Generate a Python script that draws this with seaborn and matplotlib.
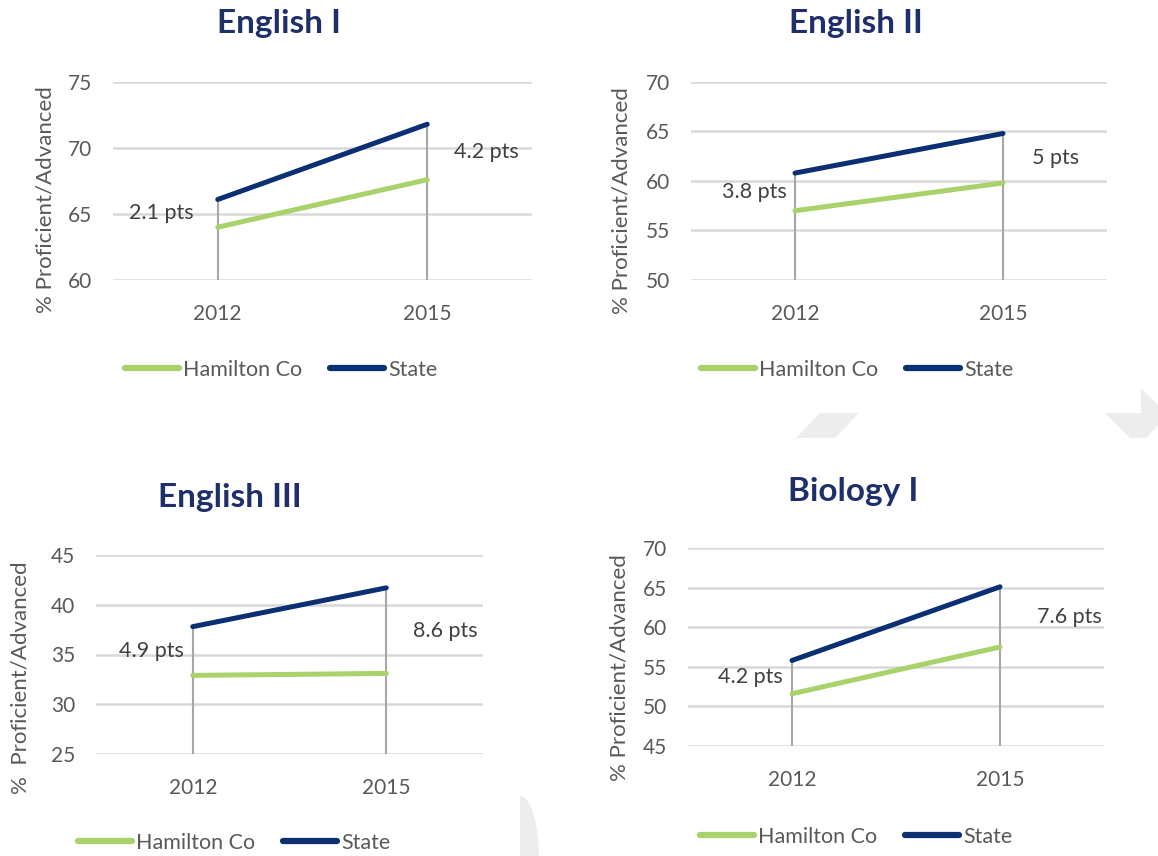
import numpy as np
import pandas as pd
import seaborn as sns
import matplotlib.pyplot as plt
from matplotlib.patches import Polygon

# data
years = ['2012', '2015']
subjects = ['English I', 'English II', 'English III', 'Biology I']
hamilton = [[64.0, 67.6], [57.0, 59.8], [32.9, 33.1], [51.6, 57.5]]
state = [[66.1, 71.8], [60.8, 64.8], [37.8, 41.7], [55.8, 65.1]]
y_limits = [(60, 75), (50, 70), (25, 45), (45, 70)]
y_labels = ['% Proficient/Advanced', '% Proficient/Advanced',
            '%  Proficient/Advanced', '% Proficient/Advanced']

# layout in pixels of the 1158x856 picture
W, H = 1158, 856
layout = [
    # axes (left, top, right, bottom), title xy, ylabel xy, legend xy, label gaps
    dict(ax=(113, 82, 532, 280), title=(279, 23), ylab=(45, 200), leg=(281, 370), gaps=(24, 27)),
    dict(ax=(691, 82, 1107, 280), title=(856, 23), ylab=(621, 201), leg=(857, 370), gaps=(8, 29)),
    dict(ax=(96, 555, 483, 754), title=(230, 498), ylab=(20, 678), leg=(234, 843), gaps=(9, 27)),
    dict(ax=(688, 548, 1104, 746), title=(853, 492), ylab=(619, 668), leg=(856, 837), gaps=(9, 37)),
]

green = '#A9D26A'
navy = '#0B2F73'
text_grey = '#595959'
fs = 15.5

sns.set_theme(style='white')
plt.rcParams['font.family'] = ['Lato', 'DejaVu Sans']

fig = plt.figure(figsize=(W / 100, H / 100), dpi=100)


def fx(x):
    return x / W


def fy(y):
    return 1 - y / H


for i, subj in enumerate(subjects):
    lay = layout[i]
    l, t, r, b = lay['ax']
    ax = fig.add_axes([fx(l), fy(b), (r - l) / W, (b - t) / H])

    df = pd.DataFrame({
        'year': years * 2,
        'value': hamilton[i] + state[i],
        'series': ['Hamilton Co'] * 2 + ['State'] * 2,
    })
    sns.lineplot(data=df, x='year', y='value', hue='series',
                 palette={'Hamilton Co': green, 'State': navy},
                 lw=3.6, ax=ax, sort=False, zorder=3,
                 solid_capstyle='round')

    lo, hi = y_limits[i]
    top = np.maximum(hamilton[i], state[i])
    ax.vlines(years, lo, top, color='#A6A6A6', lw=1.5, zorder=2)

    ax.set_ylim(lo, hi)
    ax.set_yticks(np.arange(lo, hi + 1, 5))
    ax.set_xlim(-0.5, 1.5)
    ax.grid(axis='y', color='#D9D9D9', lw=1.8)
    ax.grid(axis='x', visible=False)
    ax.set_axisbelow(True)
    sns.despine(ax=ax, left=True, bottom=True)
    ax.tick_params(axis='y', length=0, labelsize=15, colors=text_grey, pad=15)
    ax.tick_params(axis='x', length=0, labelsize=15, colors=text_grey, pad=17)

    ax.set_xlabel('')
    ax.set_ylabel(y_labels[i], fontsize=16, color=text_grey)
    lx, ly = lay['ylab']
    # label anchor is the glyph edge facing the axes, so shift by half a line
    ax.yaxis.set_label_coords((lx + 11 - l) / (r - l), (b - ly) / (b - t))

    # gap labels between the two series
    gl, gr = lay['gaps']
    for j, (dx, ha) in enumerate([(-gl, 'right'), (gr, 'left')]):
        gap = round(state[i][j] - hamilton[i][j], 1)
        mid = (state[i][j] + hamilton[i][j]) / 2
        ax.annotate(f'{gap:g} pts', xy=(years[j], mid), xytext=(dx, 0),
                    textcoords='offset pixels', ha=ha, va='center',
                    fontsize=fs, color='#404040')

    gx, gy = lay['leg']
    leg = ax.legend(loc='center',
                    bbox_to_anchor=((gx - l) / (r - l), (b - gy) / (b - t)),
                    ncol=2, frameon=False, fontsize=fs, handlelength=2.5,
                    handletextpad=0.2, columnspacing=1.3, borderaxespad=0)
    for line in leg.get_lines():
        line.set_linewidth(4.5)
        line.set_solid_capstyle('round')
    for txt in leg.get_texts():
        txt.set_color(text_grey)

    tx, ty = lay['title']
    fig.text(fx(tx), fy(ty), subj, ha='center', va='center', fontsize=24,
             fontweight='bold', color='#1F2F6A')

# faint slide decorations behind the charts
deco = '#EDEDED'
shapes = [
    [(820, 413), (859, 413), (835, 438), (796, 438)],
    [(1105, 413), (1141, 413), (1141, 388), (1158, 405), (1158, 425),
     (1146, 438), (1130, 438)],
]
theta = np.linspace(-np.pi / 2, np.pi / 2, 40)
shapes.append(list(zip(520 + 19 * np.cos(theta), 858 - 62 * np.sin(theta))))
for pts in shapes:
    fig.patches.append(Polygon([(fx(x), fy(y)) for x, y in pts], closed=True,
                               transform=fig.transFigure, facecolor=deco,
                               edgecolor='none', zorder=0))

fig.savefig('out.png', dpi=100)
